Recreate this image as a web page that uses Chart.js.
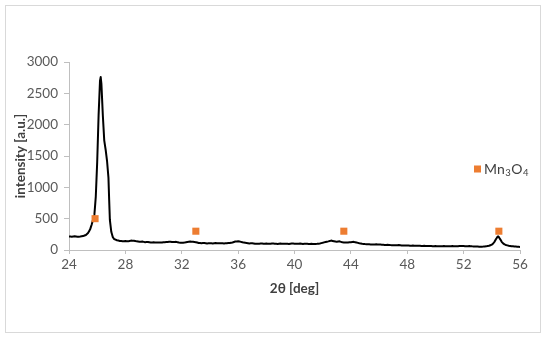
<!DOCTYPE html>
<html>
<head>
<meta charset="utf-8">
<script src="https://cdn.jsdelivr.net/npm/chart.js@4/dist/chart.umd.min.js"></script>
<style>
html,body{margin:0;padding:0;background:#fff;}
#wrap{position:relative;width:550px;height:340px;}
</style>
</head>
<body>
<div id="wrap"><canvas id="c" width="550" height="340"></canvas></div>
<script>
// 2θ angles (deg) of the XRD pattern
const angles = [24.0,24.2,24.4,24.6,24.8,25.0,25.2,25.35,25.5,25.6,25.7,25.8,25.9,26.0,26.1,26.2,26.25,26.3,26.4,26.5,26.6,26.7,26.8,26.85,26.9,27.0,27.1,27.2,27.4,27.6,27.8,28.0,28.2,28.4,28.6,28.8,29.0,29.2,29.4,29.6,29.8,30.0,30.2,30.4,30.6,30.8,31.0,31.2,31.4,31.6,31.8,32.0,32.2,32.4,32.6,32.8,33.0,33.2,33.4,33.6,33.8,34.0,34.2,34.4,34.6,34.8,35.0,35.2,35.4,35.6,35.8,36.0,36.2,36.4,36.6,36.8,37.0,37.2,37.4,37.6,37.8,38.0,38.2,38.4,38.6,38.8,39.0,39.2,39.4,39.6,39.8,40.0,40.2,40.4,40.6,40.8,41.0,41.2,41.4,41.6,41.8,42.0,42.2,42.4,42.6,42.8,43.0,43.2,43.4,43.6,43.8,44.0,44.2,44.4,44.6,44.8,45.0,45.2,45.4,45.6,45.8,46.0,46.2,46.4,46.6,46.8,47.0,47.2,47.4,47.6,47.8,48.0,48.2,48.4,48.6,48.8,49.0,49.2,49.4,49.6,49.8,50.0,50.2,50.4,50.6,50.8,51.0,51.2,51.4,51.6,51.8,52.0,52.2,52.4,52.6,52.8,53.0,53.2,53.4,53.6,53.8,54.0,54.1,54.2,54.3,54.4,54.45,54.5,54.6,54.7,54.8,54.9,55.0,55.2,55.4,55.6,55.8,56.0];
// intensity (a.u.)
const intensity = [215,212,218,210,214,222,240,270,330,400,480,560,850,1400,2150,2700,2760,2650,2150,1750,1600,1420,1150,800,480,290,210,175,155,145,140,143,138,150,148,138,132,135,125,128,120,122,118,121,119,125,128,132,126,130,120,115,118,128,135,132,125,112,108,112,105,108,104,110,106,108,104,108,112,120,135,140,130,118,112,105,108,100,98,104,100,102,98,104,100,97,103,99,101,97,104,100,98,102,97,100,96,99,95,98,105,115,128,138,150,140,130,138,122,118,120,125,130,120,108,100,95,92,88,86,90,88,84,80,82,78,76,74,78,72,70,72,68,70,66,68,64,66,62,64,60,62,58,60,62,58,60,62,58,61,64,62,60,63,58,56,55,52,54,58,68,85,105,135,175,210,218,205,170,130,105,90,80,68,60,56,52,48];
// Mn3O4 reflection markers
const mnAngles = [25.85, 33.0, 43.5, 54.5];
const mnValues = [500, 300, 300, 300];
// axis ticks
const xTicks = [24,28,32,36,40,44,48,52,56];
const yTicks = [0,500,1000,1500,2000,2500,3000];
const legendLabel = 'Mn3O4';

const pattern = angles.map((a,i)=>({x:a,y:intensity[i]}));
const markers = mnAngles.map((a,i)=>({x:a,y:mnValues[i]}));

const framePlugin = {
  id:'frame',
  beforeDraw(chart){
    const ctx = chart.ctx;
    ctx.save();
    ctx.fillStyle='#fff';
    ctx.fillRect(0,0,chart.width,chart.height);
    ctx.strokeStyle='#d9d9d9';
    ctx.lineWidth=1;
    ctx.strokeRect(5.5,5.5,535,327);
    ctx.restore();
  }
};

const legendPlugin = {
  id:'mnLegend',
  afterDraw(chart){
    const ctx = chart.ctx;
    ctx.save();
    const x0 = 474, y0 = 169;
    ctx.fillStyle = '#ED7D31';
    ctx.fillRect(x0, y0-3.5, 7, 7);
    ctx.fillStyle = '#404040';
    ctx.textBaseline = 'middle';
    ctx.textAlign = 'left';
    let x = x0 + 10;
    const big = '14px Lato, "Open Sans", sans-serif';
    const small = '9.5px Lato, "Open Sans", sans-serif';
    const parts = [['Mn',big,0],['3',small,4],['O',big,0],['4',small,4]];
    for (const [t,f,dy] of parts){
      ctx.font = f;
      ctx.fillText(t, x, y0+dy);
      x += ctx.measureText(t).width + 0.5;
    }
    ctx.restore();
  }
};

const fontFam = 'Lato, "Open Sans", sans-serif';

new Chart(document.getElementById('c'), {
  type:'scatter',
  data:{
    datasets:[
      {label:'pattern', data:pattern, showLine:true, borderColor:'#000', borderWidth:2, pointRadius:0, tension:0.001, borderJoinStyle:'round', order:2},
      {label:legendLabel, data:markers, showLine:false, pointStyle:'rect', pointRadius:5, backgroundColor:'#ED7D31', borderColor:'#ED7D31', borderWidth:0, order:1}
    ]
  },
  options:{
    responsive:false,
    animation:false,
    devicePixelRatio:1,
    layout:{padding:{left:13, top:62, right:30, bottom:43}},
    plugins:{legend:{display:false}, tooltip:{enabled:false}},
    scales:{
      x:{
        type:'linear', min:24, max:56,
        afterBuildTicks(s){ s.ticks = xTicks.map(v=>({value:v})); },
        afterFit(s){ s.height = 47; },
        border:{color:'#bfbfbf', width:1},
        grid:{drawOnChartArea:false, drawTicks:true, tickLength:4, color:'#bfbfbf'},
        ticks:{color:'#595959', font:{family:fontFam, size:13.5}, padding:3, maxRotation:0, autoSkip:false, callback:(v)=>String(v)},
        title:{display:true, text:'2θ [deg]', color:'#404040', font:{family:fontFam, size:13.5, weight:'bold'}, padding:0}
      },
      y:{
        type:'linear', min:0, max:3000,
        afterBuildTicks(s){ s.ticks = yTicks.map(v=>({value:v})); },
        afterFit(s){ s.width = 56; },
        border:{color:'#bfbfbf', width:1},
        grid:{drawOnChartArea:false, drawTicks:true, tickLength:5, color:'#bfbfbf'},
        ticks:{color:'#595959', font:{family:fontFam, size:13.5}, padding:6, callback:(v)=>String(v)},
        title:{display:true, text:'intensity [a.u.]', color:'#404040', font:{family:fontFam, size:13.5, weight:'bold'}, padding:0}
      }
    }
  },
  plugins:[framePlugin, legendPlugin]
});
</script>
</body>
</html>
